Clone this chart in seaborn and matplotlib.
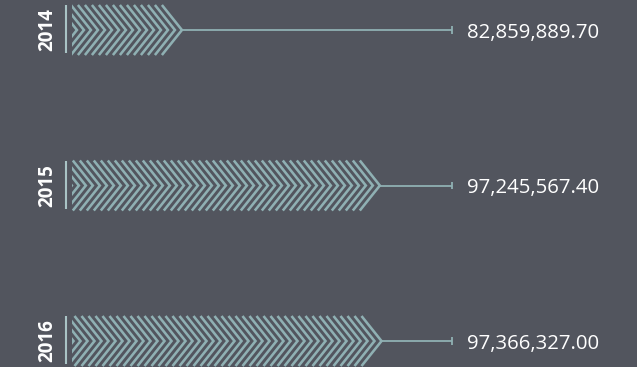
import numpy as np
import pandas as pd
import matplotlib
matplotlib.use("Agg")
import matplotlib.pyplot as plt
import seaborn as sns
from matplotlib.patches import Rectangle
from matplotlib.collections import LineCollection
from matplotlib.transforms import IdentityTransform, ScaledTranslation

# Yearly totals
years = ["2014", "2015", "2016"]
amounts = [82859889.70, 97245567.40, 97366327.00]

# Value range shown on the (hidden) horizontal axis
x_start = 74.87e6
x_end = 102.49e6

BG = "#52555e"
TEAL = "#8fb0b3"
SEP = "#a9c3c5"

sns.set_theme(style="white")
plt.rcParams["font.family"] = ["Open Sans", "DejaVu Sans"]

DPI = 100
fig = plt.figure(figsize=(6.37, 3.67), dpi=DPI, facecolor=BG)
ax = fig.add_axes([72 / 637, 0, 380 / 637, 1])
ax.set_facecolor(BG)

df = pd.DataFrame({"year": years, "amount": amounts})
sns.barplot(data=df, x="amount", y="year", orient="h", width=0.296,
            color=TEAL, ax=ax)
ax.set_xlim(x_start, x_end)
ax.set_ylim(2.167, -0.193)
ax.axis("off")

spacing = 7.0      # px between chevrons
arm_ratio = 0.87   # horizontal reach of a chevron arm per unit of half-height

for patch in list(ax.patches):
    value = patch.get_x() + patch.get_width()
    y0 = patch.get_y()
    h = patch.get_height()
    yc = y0 + h / 2
    patch.set_visible(False)

    px0, pa = ax.transData.transform((x_start, y0))
    ptip, pc = ax.transData.transform((value, yc))
    _, pb = ax.transData.transform((x_start, y0 + h))
    half = abs(pa - pb) / 2
    dx = half * arm_ratio

    segs = []
    tx = ptip
    while tx + 2 > px0:
        segs.append([(tx - dx, pc + half + 2), (tx, pc), (tx - dx, pc - half - 2)])
        tx -= spacing
    lc = LineCollection(segs, colors=TEAL, linewidths=1.85,
                        transform=IdentityTransform(), capstyle="butt",
                        joinstyle="miter")
    clip = Rectangle((px0, pc - half), ptip - px0 + 3, 2 * half,
                     transform=IdentityTransform())
    lc.set_clip_path(clip)
    ax.add_collection(lc)

    # connector out to the common end, with an end cap
    ax.plot([value, x_end], [yc, yc], color=TEAL, lw=1.3, clip_on=False,
            solid_capstyle="butt")
    ax.plot([x_end, x_end], [yc - 0.023, yc + 0.023], color=TEAL, lw=1.3,
            clip_on=False, solid_capstyle="butt")

    # value label
    ax.annotate(f"{value:,.2f}", (x_end, yc), xytext=(10.5, 0),
                textcoords="offset points", ha="left", va="center_baseline",
                color="white", fontsize=14.7, annotation_clip=False)

    # left separator and year label
    sep_tr = ax.transData + ScaledTranslation(-6 / DPI, 0, fig.dpi_scale_trans)
    ax.plot([x_start, x_start], [y0 - 0.01, y0 + h], color=SEP, lw=1.5,
            transform=sep_tr, clip_on=False, solid_capstyle="butt")

for i, yr in enumerate(years):
    ax.annotate(yr, (x_start, i), xytext=(-18, 0), textcoords="offset points",
                ha="center", va="center", rotation=90, color="white",
                fontsize=13.5, fontweight="bold", annotation_clip=False)

fig.savefig("out.png", dpi=DPI, facecolor=BG)
